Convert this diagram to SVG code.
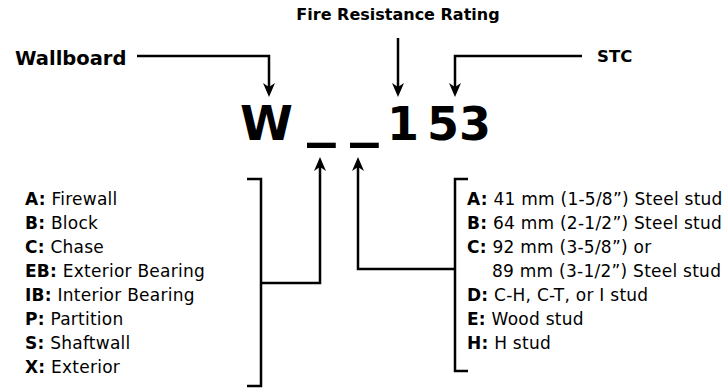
<svg xmlns="http://www.w3.org/2000/svg" width="727" height="388" viewBox="0 0 727 388">
<style>
text{font-family:"DejaVu Sans","Liberation Sans",sans-serif;fill:#000}
.h{font-weight:bold}
.l{font-size:17px;letter-spacing:0.25px}
.b{font-weight:bold}
.c{fill:none;stroke:#000;stroke-width:2.5}
</style>
<defs>
<marker id="ah" markerUnits="userSpaceOnUse" markerWidth="20" markerHeight="20" viewBox="-12 -8 20 16" refX="0" refY="0" orient="auto">
<path d="M4,0 L-10,-6 L-6,0 L-10,6 Z" fill="#000"/>
</marker>
</defs>
<g id="title-fire"><text class="h" x="398" y="20" font-size="16" text-anchor="middle">Fire Resistance Rating</text></g>
<g id="wallboard"><text class="h" x="15" y="65" font-size="19.5">Wallboard</text></g>
<g id="stc"><text class="h" x="597" y="62" font-size="16.5">STC</text></g>
<g id="code" class="h">
<text x="240" y="140" font-size="48">W</text>
<text transform="translate(307,135) scale(1.2,1.2)" font-size="48">_</text>
<text transform="translate(350,135) scale(1.2,1.2)" font-size="48">_</text>
<text x="387" y="140" font-size="46">1</text>
<text x="427" y="140" font-size="46">53</text>
</g>
<g id="left-list" class="l">
<text x="25" y="205"><tspan class="b">A:</tspan> Firewall</text>
<text x="25" y="229"><tspan class="b">B:</tspan> Block</text>
<text x="25" y="253"><tspan class="b">C:</tspan> Chase</text>
<text x="25" y="277"><tspan class="b">EB:</tspan> Exterior Bearing</text>
<text x="25" y="301"><tspan class="b">IB:</tspan> Interior Bearing</text>
<text x="25" y="325"><tspan class="b">P:</tspan> Partition</text>
<text x="25" y="349"><tspan class="b">S:</tspan> Shaftwall</text>
<text x="25" y="373"><tspan class="b">X:</tspan> Exterior</text>
</g>
<g id="right-list" class="l">
<text x="467" y="205"><tspan class="b">A:</tspan> 41 mm (1-5/8”) Steel stud</text>
<text x="467" y="229"><tspan class="b">B:</tspan> 64 mm (2-1/2”) Steel stud</text>
<text x="467" y="253"><tspan class="b">C:</tspan> 92 mm (3-5/8”) or</text>
<text x="492" y="277">89 mm (3-1/2”) Steel stud</text>
<text x="467" y="301"><tspan class="b">D:</tspan> C-H, C-T, or I stud</text>
<text x="467" y="325"><tspan class="b">E:</tspan> Wood stud</text>
<text x="467" y="349"><tspan class="b">H:</tspan> H stud</text>
</g>
<g id="connectors">
<path class="c" d="M137,56 H269 V93" marker-end="url(#ah)"/>
<path class="c" d="M398,38 V93" marker-end="url(#ah)"/>
<path class="c" d="M582,56 H455 V93" marker-end="url(#ah)"/>
<path class="c" d="M247,179 H261 V386 H247"/>
<path class="c" d="M261,283 H320 V161" marker-end="url(#ah)"/>
<path class="c" d="M468,179 H455 V371 H468"/>
<path class="c" d="M455,269 H358 V161" marker-end="url(#ah)"/>
</g>
</svg>
